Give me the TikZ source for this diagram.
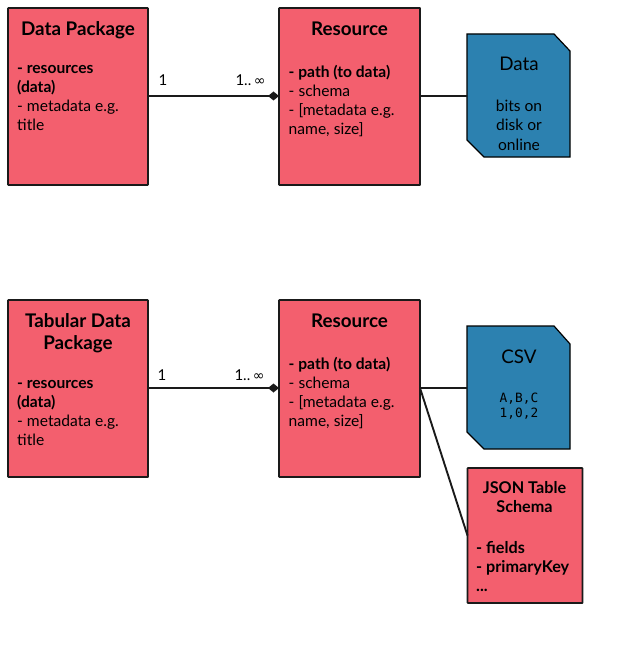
\documentclass[tikz,border=0pt]{standalone}
\usepackage{fontspec}
\setmainfont{Lato}
\newfontfamily\codefont{DejaVu Sans Mono}
\newfontfamily\symfont{DejaVu Sans}
\usetikzlibrary{arrows.meta}
\definecolor{pinkfill}{HTML}{F35F6E}
\definecolor{bluefill}{HTML}{2C81B0}
\definecolor{edgeink}{HTML}{1A1A1A}
\tikzset{
  redbox/.style={draw=edgeink,fill=pinkfill,line width=1.9pt,inner sep=0pt,outer sep=0pt,anchor=north west,rounded corners=0.6pt},
  docshape/.style={draw=black,fill=bluefill,line width=1.2pt},
  link/.style={draw=edgeink,line width=1.9pt},
  titletext/.style={inner sep=0pt,align=center,anchor=north,text=black,font=\bfseries\fontsize{18.8}{22}\selectfont},
  bodytext/.style={inner sep=0pt,align=left,anchor=north west,text=black,font=\fontsize{15.6}{19}\selectfont},
  doctitle/.style={inner sep=0pt,align=center,anchor=north,text=black,font=\fontsize{18.8}{22}\selectfont},
  docbody/.style={inner sep=0pt,align=center,anchor=north,text=black,font=\fontsize{15.6}{19.3}\selectfont},
  codetext/.style={inner sep=0pt,align=center,anchor=north,text=black,font=\codefont\fontsize{12.8}{15}\selectfont},
  mult/.style={inner sep=0pt,anchor=base,text=black,font=\fontsize{15}{18}\selectfont},
}
\newcommand{\infsym}{{\symfont\fontsize{14}{14}\selectfont ∞}}
\begin{document}
\begin{tikzpicture}[x=1pt,y=-1pt]
\useasboundingbox (0,0) rectangle (628,650);
% boxes
\node[redbox,minimum width=140pt,minimum height=177pt] (pkgA) at (8,8) {};
\node[redbox,minimum width=141pt,minimum height=177pt] (resA) at (279,8) {};
\node[redbox,minimum width=140pt,minimum height=177pt] (pkgB) at (8,300) {};
\node[redbox,minimum width=141pt,minimum height=177pt] (resB) at (279,300) {};
\node[redbox,minimum width=115pt,minimum height=135pt] (json) at (467.5,468) {};
% documents
\draw[docshape] (467,34) -- (554,34) -- (570,51) -- (570,157) -- (484,157) -- (467,140) -- cycle;
\draw[docshape] (467,326) -- (554,326) -- (570,344) -- (570,449) -- (484,449) -- (467,432) -- cycle;
\coordinate (dataW) at (467,96);
\coordinate (csvW) at (467,388);
% connectors
\draw[link,-{Diamond[length=11pt,width=9pt]}] ([yshift=.5pt]pkgA.east) -- ([yshift=.5pt]resA.west);
\draw[link,-{Diamond[length=11pt,width=9pt]}] ([yshift=.5pt]pkgB.east) -- ([yshift=.5pt]resB.west);
\draw[link] ([yshift=.5pt]resA.east) -- (dataW);
\draw[link] ([yshift=.5pt]resB.east) -- (csvW);
\draw[link] ([yshift=.5pt]resB.east) -- (json.west);
% text
\node[titletext] (t1) at (78,21.5) {Data Package};
\node[bodytext] (b1) at (17,65.5) {\textbf{- resources}\\\textbf{(data)}\\- metadata e.g.\\title};
\node[titletext] (t2) at (349.5,21.5) {Resource};
\node[bodytext] (b2) at (288.5,65) {\textbf{- path (to data)}\\- schema\\- [metadata e.g.\\name, size]};
\node[doctitle] (t3) at (519,57) {Data};
\node[docbody] (b3) at (519,100) {bits on\\disk or\\online};
\node[titletext] (t4) at (78,313.5) {Tabular Data\\Package};
\node[bodytext] (b4) at (17,380) {\textbf{- resources}\\\textbf{(data)}\\- metadata e.g.\\title};
\node[titletext] (t5) at (349.5,313.5) {Resource};
\node[bodytext] (b5) at (288.5,357) {\textbf{- path (to data)}\\- schema\\- [metadata e.g.\\name, size]};
\node[doctitle] (t6) at (519,350) {CSV};
\node[codetext] (c6) at (519,392.5) {A,B,C\\1,0,2};
\node[titletext,font=\bfseries\fontsize{16.2}{19}\selectfont] (t7) at (524.5,481) {JSON Table\\Schema};
\node[bodytext,font=\bfseries\fontsize{16.2}{19}\selectfont] (b7) at (476,541) {- fields\\- primaryKey\\...};
% multiplicities
\node[mult] (m1) at (163,86) {1};
\node[mult] (m2) at (250.5,86) {1..\,\infsym};
\node[mult] (m3) at (162,380) {1};
\node[mult] (m4) at (249.5,380) {1..\,\infsym};
\end{tikzpicture}
\end{document}
